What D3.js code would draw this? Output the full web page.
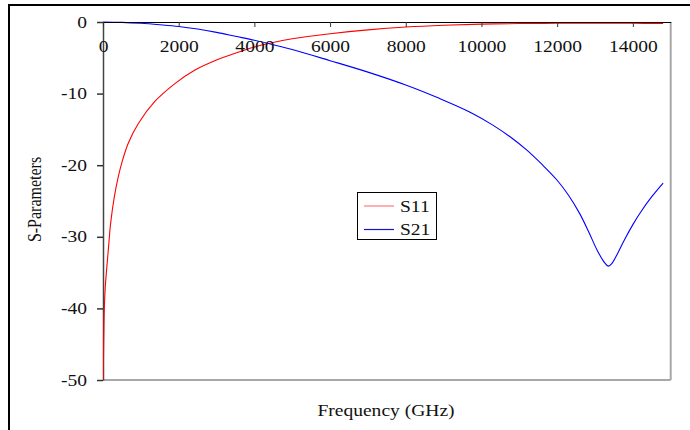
<!DOCTYPE html>
<html>
<head>
<meta charset="utf-8">
<script src="https://cdn.jsdelivr.net/npm/d3@7"></script>
<style>
  body { margin: 0; background: #fff; }
  text { font-family: "Liberation Serif", "Times New Roman", serif; fill: #111; }
</style>
</head>
<body>
<div id="chart"></div>
<script>
// ---- data: [frequency, dB] ----
var seriesNames = ["S11", "S21"];
var s11 = [[5,-50],[35,-40],[60,-37],[100,-34.3],[150,-31.2],[200,-28.2],[300,-24.4],
           [400,-21.7],[500,-19.6],[670,-16.9],[930,-14.2],[1370,-11.1],[1900,-8.6],
           [2430,-6.7],[3000,-5.3],[3360,-4.6],[3750,-3.9],[4000,-3.5],[4370,-3.0],
           [5000,-2.35],[6000,-1.65],[7000,-1.1],[8000,-0.7],[9000,-0.45],[10000,-0.3],
           [11000,-0.22],[12000,-0.18],[13000,-0.18],[14000,-0.18],[14800,-0.2]];
var s21 = [[0,0],[500,-0.05],[1000,-0.18],[1500,-0.38],[2000,-0.62],[2500,-0.98],
           [3000,-1.45],[3500,-2.0],[4000,-2.55],[4370,-3.0],[5000,-3.85],
           [6000,-5.4],[7000,-7.0],[8000,-8.8],[8900,-10.7],[9700,-12.6],[10300,-14.4],
           [10800,-16.2],[11200,-17.9],[11600,-19.9],[12000,-22.1],[12300,-24.2],
           [12600,-26.8],[12850,-29.5],[13050,-31.8],[13250,-33.6],[13350,-34.1],
           [13450,-33.7],[13600,-32.3],[13800,-30.2],[14000,-28.3],[14200,-26.6],
           [14500,-24.4],[14800,-22.5]];
var xTicks = [0, 2000, 4000, 6000, 8000, 10000, 12000, 14000];
var yTicks = [0, -10, -20, -30, -40, -50];

var W = 690, H = 430,
    plot = { left: 103, top: 22, right: 670.7, bottom: 380 },
    stretchX = 1.22,   // the picture is widened, so its text is too
    colors = { S11: "#ff0000", S21: "#0000ff" },
    legendColors = { S11: "#ff7a7a", S21: "#1414c8" };

var svg = d3.select("#chart").append("svg")
    .attr("width", W).attr("height", H);

// outer frame (runs off the right and bottom of the picture)
svg.append("rect")
    .attr("x", 9).attr("y", 5).attr("width", 700).attr("height", 500)
    .attr("fill", "none").attr("stroke", "#000").attr("stroke-width", 2);

var x = d3.scaleLinear().domain([0, 15000]).range([plot.left, plot.right]);
var y = d3.scaleLinear().domain([-50, 0]).range([plot.bottom, plot.top]);

// grey plot-area edges on the right and bottom
svg.append("line")
    .attr("x1", plot.left).attr("x2", plot.right)
    .attr("y1", plot.bottom).attr("y2", plot.bottom)
    .attr("stroke", "#a8a8a8").attr("stroke-width", 2);
svg.append("line")
    .attr("x1", plot.right).attr("x2", plot.right)
    .attr("y1", plot.top).attr("y2", plot.bottom)
    .attr("stroke", "#a8a8a8").attr("stroke-width", 2);

// y axis
var yAxis = svg.append("g")
    .attr("transform", "translate(" + plot.left + ",0)")
    .call(d3.axisLeft(y).tickValues(yTicks).tickFormat(String)
            .tickSize(6).tickSizeOuter(0).tickPadding(10));

// curves, clipped to the plot area
svg.append("clipPath").attr("id", "clip").append("rect")
    .attr("x", plot.left).attr("y", plot.top - 2)
    .attr("width", plot.right - plot.left).attr("height", plot.bottom - plot.top + 2);

var line = d3.line()
    .x(function(d) { return x(d[0]); })
    .y(function(d) { return y(d[1]); })
    .curve(d3.curveCatmullRom.alpha(0.5));

var curves = svg.append("g").attr("clip-path", "url(#clip)");
[s11, s21].forEach(function(s, i) {
  curves.append("path")
      .datum(s)
      .attr("d", line)
      .attr("fill", "none")
      .attr("stroke", colors[seriesNames[i]])
      .attr("stroke-width", 1.1);
});

// x axis sits at 0 dB, along the top
var xAxis = svg.append("g")
    .attr("transform", "translate(0," + y(0) + ")")
    .call(d3.axisBottom(x).tickValues(xTicks).tickFormat(d3.format("d"))
            .tickSize(5).tickSizeOuter(0).tickPadding(14));

[xAxis, yAxis].forEach(function(a) {
  a.attr("font-family", null).attr("font-size", null);
  a.selectAll("text").attr("font-size", 16).attr("fill", "#111");
  a.selectAll(".tick line").attr("stroke", "#333");
});
xAxis.select(".domain").attr("stroke", "#000");
yAxis.select(".domain").attr("stroke", "#444").attr("stroke-width", 1.5);
yAxis.selectAll(".tick line").attr("stroke-width", 1.5);
stretch(xAxis.selectAll("text"));
stretch(yAxis.selectAll("text"));

// axis titles
stretch(svg.append("text")
    .attr("x", 386).attr("y", 415.5)
    .attr("text-anchor", "middle").attr("font-size", 16)
    .text("Frequency (GHz)"));

svg.append("text")
    .attr("transform", "translate(41,199.5) scale(" + stretchX + ",1) rotate(-90)")
    .attr("text-anchor", "middle").attr("font-size", 16)
    .text("S-Parameters");

// legend
var legend = svg.append("g").attr("transform", "translate(357.5,192.5)");
legend.append("rect")
    .attr("width", 79).attr("height", 47)
    .attr("fill", "#fff").attr("stroke", "#000").attr("stroke-width", 1);
seriesNames.forEach(function(name, i) {
  var ly = 13.5 + i * 23.5;
  legend.append("line")
      .attr("x1", 6.5).attr("x2", 36.5).attr("y1", ly).attr("y2", ly)
      .attr("stroke", legendColors[name]).attr("stroke-width", 1.2);
  stretch(legend.append("text")
      .attr("x", 42.5).attr("y", ly + 5.5)
      .attr("font-size", 16)
      .text(name));
});

// widen text horizontally the way the picture does
function stretch(sel) {
  sel.each(function() {
    var w = this.getComputedTextLength();
    this.setAttribute("textLength", w * stretchX);
    this.setAttribute("lengthAdjust", "spacingAndGlyphs");
  });
}
</script>
</body>
</html>
